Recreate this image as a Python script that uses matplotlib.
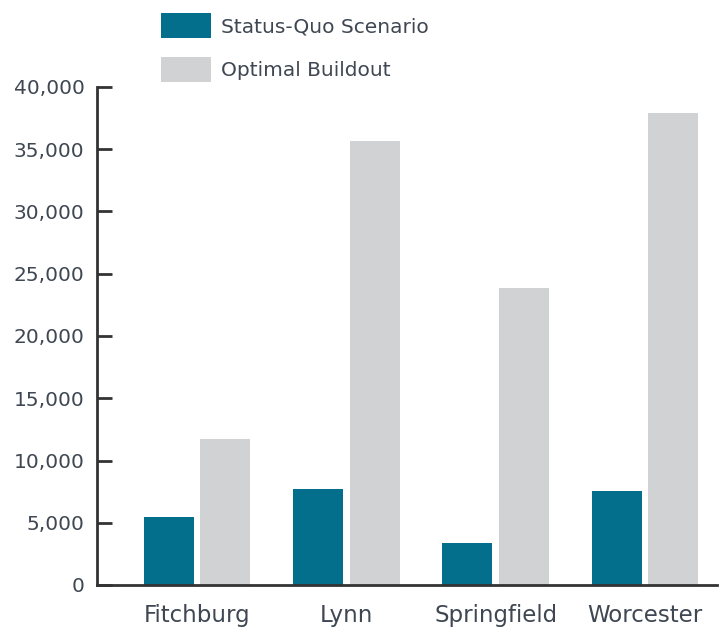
import numpy as np
import matplotlib
matplotlib.use("Agg")
import matplotlib.pyplot as plt
from matplotlib.ticker import FuncFormatter

# --- Data ---
cities = ["Fitchburg", "Lynn", "Springfield", "Worcester"]
status_quo = [5470, 7700, 3400, 7540]
optimal = [11720, 35660, 23840, 37890]

teal = "#046f8c"
grey = "#d1d2d4"
text_col = "#3e4752"
axis_col = "#333333"

plt.rcParams["font.family"] = ["DejaVu Sans"]

fig = plt.figure(figsize=(7.21, 6.33), dpi=100)
ax = fig.add_axes([97 / 721, 1 - 585 / 633, 620 / 721, 498 / 633])

x = np.arange(len(cities))
w = 0.335
off = 0.19
ax.bar(x - off, status_quo, w, color=teal, label="Status-Quo Scenario")
ax.bar(x + off, optimal, w, color=grey, label="Optimal Buildout")

ax.set_xlim(-0.67, 3.483)
ax.set_ylim(0, 40000)
ax.set_yticks(range(0, 40001, 5000))
ax.yaxis.set_major_formatter(FuncFormatter(lambda v, p: f"{int(v):,}"))
ax.set_xticks(x)
ax.set_xticklabels(cities)

for s in ["top", "right"]:
    ax.spines[s].set_visible(False)
for s in ["left", "bottom"]:
    ax.spines[s].set_color(axis_col)
    ax.spines[s].set_linewidth(2)

ax.tick_params(axis="y", direction="in", length=11, width=2, color=axis_col,
               pad=9, labelsize=14.5, labelcolor=text_col)
# labels sit near the bottom edge, kept just inside the canvas
ax.tick_params(axis="x", length=0, pad=14, labelsize=16.5, labelcolor=text_col)

ax.legend(loc="upper left", bbox_to_anchor=(161 / 721, 1 - 13 / 633),
          bbox_transform=fig.transFigure, frameon=False, borderpad=0,
          borderaxespad=0, fontsize=14.5, handlelength=2.49, handleheight=1.536,
          handletextpad=0.5, labelspacing=0.95, labelcolor=text_col)

plt.savefig("out.png", dpi=100)
